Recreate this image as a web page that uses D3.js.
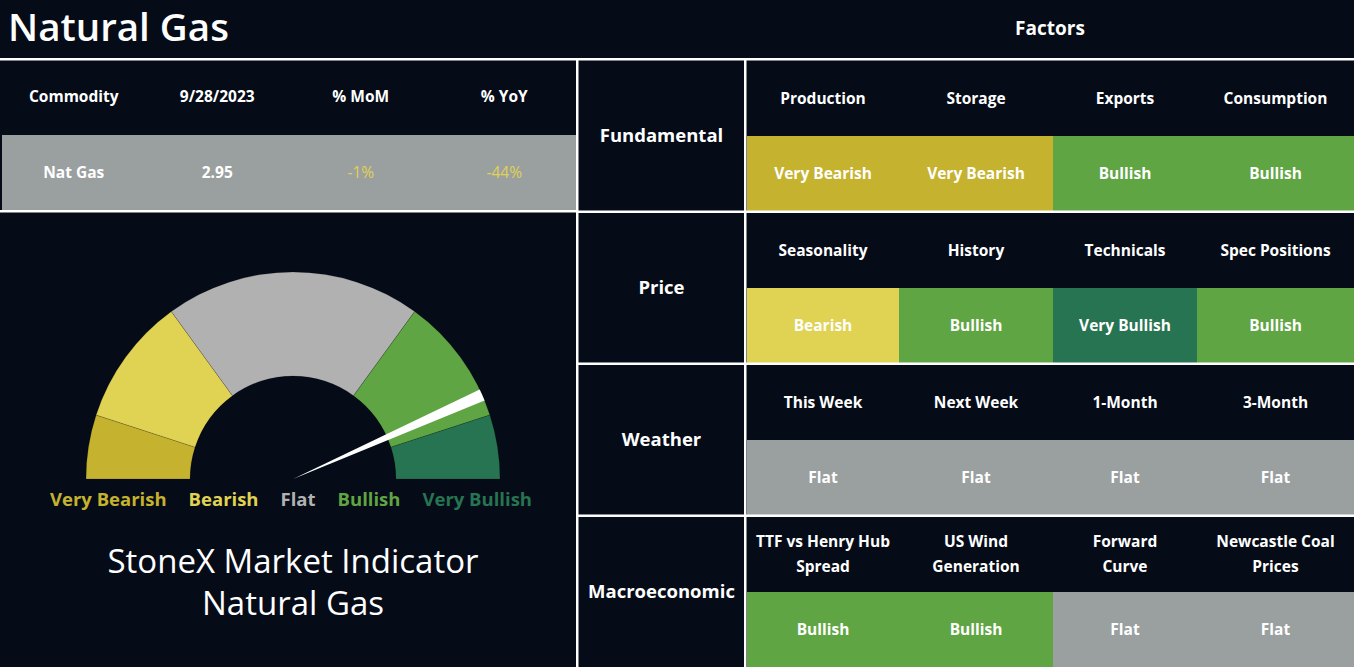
<!DOCTYPE html>
<html lang="en">
<head>
    <meta charset="UTF-8">
    <title>Natural Gas - StoneX Market Indicator</title>
    <script src="https://d3js.org/d3.v7.min.js"></script>
    <style>
        body { margin: 0; background: #050b17; }
        text { font-family: "Open Sans", Lato, sans-serif; }
    </style>
</head>
<body>
    <svg id="dash"></svg>

    <script>
        // ---- data ----
        const tableHeaders = ["Commodity", "9/28/2023", "% MoM", "% YoY"];
        const tableRow = ["Nat Gas", "2.95", "-1%", "-44%"];

        const signalLevels = ["Very Bearish", "Bearish", "Flat", "Bullish", "Very Bullish"];
        const gaugeShares = [1, 2, 4, 2, 1];      // width of each band of the gauge
        const needleValue = 0.867;                // 0 = very bearish, 1 = very bullish

        const categories = ["Fundamental", "Price", "Weather", "Macroeconomic"];
        const fundamentalFactors = ["Production", "Storage", "Exports", "Consumption"];
        const fundamentalSignals = ["Very Bearish", "Very Bearish", "Bullish", "Bullish"];
        const priceFactors = ["Seasonality", "History", "Technicals", "Spec Positions"];
        const priceSignals = ["Bearish", "Bullish", "Very Bullish", "Bullish"];
        const weatherFactors = ["This Week", "Next Week", "1-Month", "3-Month"];
        const weatherSignals = ["Flat", "Flat", "Flat", "Flat"];
        const macroFactors = ["TTF vs Henry Hub\nSpread", "US Wind\nGeneration", "Forward\nCurve", "Newcastle Coal\nPrices"];
        const macroSignals = ["Bullish", "Bullish", "Flat", "Flat"];

        const factorRows = [
            {factors: fundamentalFactors, signals: fundamentalSignals},
            {factors: priceFactors, signals: priceSignals},
            {factors: weatherFactors, signals: weatherSignals},
            {factors: macroFactors, signals: macroSignals}
        ];

        // ---- look ----
        const width = 1354, height = 667;
        const bg = "#050b17";
        const cellColor = d3.scaleOrdinal()
            .domain(signalLevels)
            .range(["#c5b22f", "#e0d253", "#9aa09f", "#5fa544", "#277452"]);
        const gaugeColor = d3.scaleOrdinal()
            .domain(signalLevels)
            .range(["#c5b22f", "#e0d253", "#b1b1b1", "#5fa544", "#277452"]);

        const svg = d3.select("#dash")
            .attr("width", width)
            .attr("height", height)
            .style("display", "block");

        svg.append("rect")
            .attr("width", width).attr("height", height)
            .attr("fill", bg);

        // ---- headings ----
        svg.append("text")
            .attr("x", 8).attr("y", 41)
            .attr("fill", "white")
            .style("font-size", "38.5px").style("font-weight", 600)
            .text("Natural Gas");

        svg.append("text")
            .attr("x", 1050).attr("y", 28)
            .attr("dy", "0.35em")
            .attr("text-anchor", "middle")
            .attr("fill", "white")
            .style("font-size", "19px").style("font-weight", 700)
            .text("Factors");

        // ---- commodity table ----
        const tx = d3.scaleBand().domain(tableHeaders).range([2, 576]);

        svg.append("rect")
            .attr("x", 2).attr("y", 135)
            .attr("width", 574).attr("height", 75)
            .attr("fill", cellColor("Flat"));

        svg.selectAll(".th")
            .data(tableHeaders)
            .enter()
            .append("text")
            .attr("x", d => tx(d) + tx.bandwidth() / 2)
            .attr("y", 97)
            .attr("dy", "0.35em")
            .attr("text-anchor", "middle")
            .attr("fill", "white")
            .style("font-size", "15.5px").style("font-weight", 700)
            .text(d => d);

        svg.selectAll(".td")
            .data(tableRow)
            .enter()
            .append("text")
            .attr("x", (d, i) => tx(tableHeaders[i]) + tx.bandwidth() / 2)
            .attr("y", 173)
            .attr("dy", "0.35em")
            .attr("text-anchor", "middle")
            .attr("fill", d => d.startsWith("-") ? cellColor("Bearish") : "white")
            .style("font-size", "15.5px")
            .style("font-weight", d => d.startsWith("-") ? 400 : 700)
            .text(d => d);

        // ---- gauge ----
        const cx = 293, cy = 479;
        const rOuter = 207, rInner = 103;
        const gauge = svg.append("g").attr("transform", `translate(${cx},${cy})`);

        const pie = d3.pie()
            .sort(null)
            .startAngle(-Math.PI / 2)
            .endAngle(Math.PI / 2)
            .value(d => d[1]);

        const bands = pie(d3.zip(signalLevels, gaugeShares));

        const arc = d3.arc().innerRadius(rInner).outerRadius(rOuter);

        gauge.selectAll(".band")
            .data(bands)
            .enter()
            .append("path")
            .attr("d", arc)
            .attr("fill", d => gaugeColor(d.data[0]))
            .attr("stroke", "rgba(0,0,0,0.25)")
            .style("stroke-width", "0.6px");

        const angle = d3.scaleLinear().domain([0, 1]).range([-Math.PI / 2, Math.PI / 2]);
        const needleHalf = 0.0092;
        gauge.append("path")
            .attr("d", d3.arc()({
                innerRadius: 0,
                outerRadius: rOuter,
                startAngle: angle(needleValue - needleHalf),
                endAngle: angle(needleValue + needleHalf)
            }))
            .attr("fill", "white");

        // legend under the gauge, laid out inline and centred on the gauge
        const legendItems = svg.append("g").selectAll("text")
            .data(signalLevels)
            .enter()
            .append("text")
            .attr("y", 500)
            .attr("dy", "0.35em")
            .attr("fill", d => gaugeColor(d))
            .style("font-size", "18.5px").style("font-weight", 700)
            .text(d => d);

        const gap = 22;
        const widths = legendItems.nodes().map(n => n.getComputedTextLength());
        const total = d3.sum(widths) + gap * (widths.length - 1);
        let lx = cx - 2 - total / 2;
        legendItems.attr("x", (d, i) => {
            const x = lx;
            lx += widths[i] + gap;
            return x;
        });

        svg.selectAll(".gtitle")
            .data(["StoneX Market Indicator", "Natural Gas"])
            .enter()
            .append("text")
            .attr("x", cx)
            .attr("y", (d, i) => 573 + i * 42)
            .attr("text-anchor", "middle")
            .attr("fill", "white")
            .style("font-size", "33px").style("font-weight", 400)
            .text(d => d);

        // ---- factor grid ----
        const gy = d3.scaleBand().domain(categories).range([61, 667]).paddingInner(0.013);
        // column edges are not equal in the original layout
        const colEdges = [747, 899, 1053, 1197, 1354];
        const fx = d3.scaleOrdinal().domain(d3.range(5)).range(colEdges);
        const fw = i => fx(i + 1) - fx(i);

        const rows = svg.selectAll(".frow")
            .data(factorRows)
            .enter()
            .append("g")
            .attr("transform", (d, i) => `translate(0,${gy(categories[i])})`);

        const half = gy.bandwidth() / 2;

        rows.append("text")
            .attr("x", (579 + 744) / 2)
            .attr("y", half)
            .attr("dy", "0.35em")
            .attr("text-anchor", "middle")
            .attr("fill", "white")
            .style("font-size", "18.5px").style("font-weight", 700)
            .text((d, i) => categories[i]);

        rows.selectAll(".cell")
            .data(d => d.signals)
            .enter()
            .append("rect")
            .attr("x", (d, i) => fx(i))
            .attr("y", half)
            .attr("width", (d, i) => fw(i) + 1)
            .attr("height", gy.bandwidth() - half)
            .attr("fill", d => cellColor(d))
            .attr("shape-rendering", "crispEdges");

        rows.selectAll(".val")
            .data(d => d.signals)
            .enter()
            .append("text")
            .attr("x", (d, i) => fx(i) + fw(i) / 2)
            .attr("y", half * 1.5)
            .attr("dy", "0.35em")
            .attr("text-anchor", "middle")
            .attr("fill", "white")
            .style("font-size", "15.5px").style("font-weight", 700)
            .text(d => d);

        const heads = rows.selectAll(".fh")
            .data(d => d.factors)
            .enter()
            .append("text")
            .attr("x", (d, i) => fx(i) + fw(i) / 2)
            .attr("y", half / 2)
            .attr("text-anchor", "middle")
            .attr("fill", "white")
            .style("font-size", "15.5px").style("font-weight", 700);

        heads.selectAll("tspan")
            .data(d => {
                const lines = d.split("\n");
                return lines.map((t, k) => ({t, k, n: lines.length}));
            })
            .enter()
            .append("tspan")
            .attr("x", function () { return d3.select(this.parentNode).attr("x"); })
            .attr("dy", d => d.k === 0 ? `${0.35 - (d.n - 1) * 0.8}em` : "1.6em")
            .text(d => d.t);

        // ---- white rules ----
        const rule = "#ffffff";
        svg.append("rect").attr("x", 0).attr("y", 58).attr("width", width).attr("height", 2.5).attr("fill", rule);
        svg.append("rect").attr("x", 576).attr("y", 58).attr("width", 2.5).attr("height", height - 58).attr("fill", rule);
        svg.append("rect").attr("x", 744).attr("y", 58).attr("width", 2.5).attr("height", height - 58).attr("fill", rule);
        svg.append("rect").attr("x", 0).attr("y", 210).attr("width", 577).attr("height", 2.5).attr("fill", rule);
        categories.slice(1).forEach(c => {
            svg.append("rect")
                .attr("x", 577).attr("y", gy(c) - 2.5)
                .attr("width", width - 577).attr("height", 2.5)
                .attr("fill", rule);
        });
    </script>
</body>
</html>
